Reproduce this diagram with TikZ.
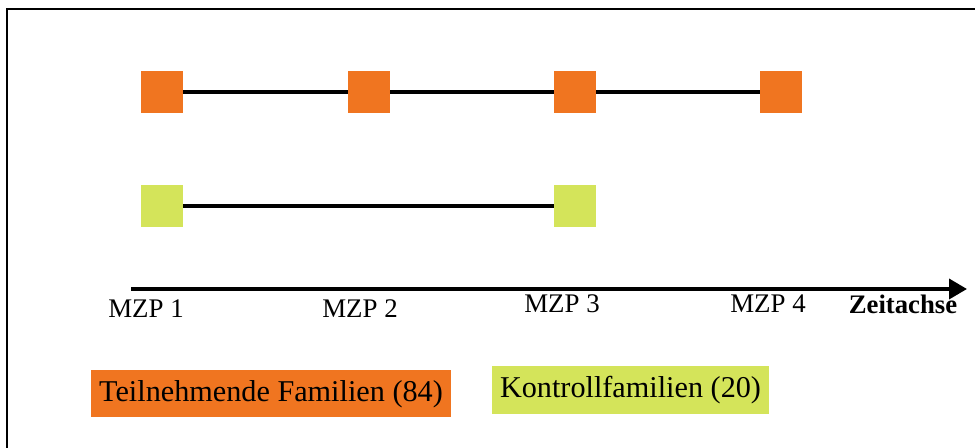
\documentclass[tikz,border=0pt]{standalone}
\usepackage{fontspec}
\setmainfont{Liberation Serif}
\usetikzlibrary{arrows.meta}
\definecolor{famorange}{RGB}{240,117,32}
\definecolor{kontrollgreen}{RGB}{212,228,90}
\tikzstyle{orange point}=[fill=famorange, minimum size=0.84cm, inner sep=0pt]
\tikzstyle{green point}=[fill=kontrollgreen, minimum size=0.84cm, inner sep=0pt]
\tikzstyle{timeline}=[line width=2pt]
\tikzstyle{axis}=[line width=2.1pt, -{Triangle[length=0.36cm, width=0.4cm]}]
\tikzstyle{mzp label}=[font=\rmfamily\fontsize{15.3}{18}\selectfont, inner sep=0pt]
\tikzstyle{legend box}=[font=\rmfamily\fontsize{17.2}{20}\selectfont, inner sep=0pt]

\begin{document}
\begin{tikzpicture}[x=0.02cm, y=-0.02cm]
      \useasboundingbox (0,0) rectangle (975,448);
      \draw[line width=1pt] (975,9) -- (7,9) -- (7,448);
      % teilnehmende Familien
      \node[orange point] (t1) at (162,92) {};
      \node[orange point] (t2) at (369,92) {};
      \node[orange point] (t3) at (575,92) {};
      \node[orange point] (t4) at (781,92) {};
      \draw[timeline] (t1) -- (t2) -- (t3) -- (t4);
      % Kontrollfamilien
      \node[green point] (k1) at (162,206) {};
      \node[green point] (k3) at (575,206) {};
      \draw[timeline] (k1) -- (k3);
      % Zeitachse
      \coordinate (axis start) at (131,289);
      \coordinate (axis end) at (967,289);
      \draw[axis] (axis start) -- (axis end);
      \node[mzp label] (m1) at (146,309) {MZP 1};
      \node[mzp label] (m2) at (360,309) {MZP 2};
      \node[mzp label] (m3) at (562,304) {MZP 3};
      \node[mzp label] (m4) at (768,304) {MZP 4};
      \node[mzp label, font=\rmfamily\fontsize{15.2}{18}\selectfont\bfseries] (zeit) at (903,304) {Zeitachse};
      % Legende
      \node[legend box, fill=famorange, minimum width=7.2cm, minimum height=0.94cm] (leg t) at (271,394) {Teilnehmende Familien (84)};
      \node[legend box, fill=kontrollgreen, minimum width=5.56cm, minimum height=0.96cm] (leg k) at (630.5,390.5) {Kontrollfamilien (20)};
    \end{tikzpicture}
\end{document}
